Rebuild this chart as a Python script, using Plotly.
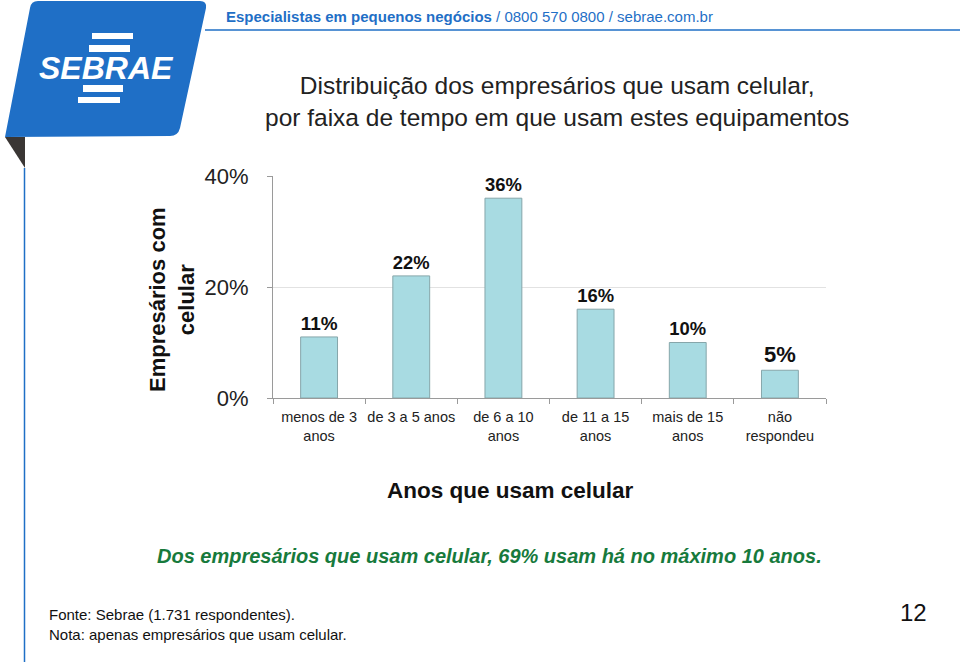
import plotly.graph_objects as go

categories = ["menos de 3<br>anos", "de 3 a 5 anos", "de 6 a 10<br>anos",
              "de 11 a 15<br>anos", "mais de 15<br>anos", "não<br>respondeu"]
values = [11, 22, 36, 16, 10, 5]
value_labels = ["11%", "22%", "36%", "16%", "10%", "5%"]
y_ticks = [0, 20, 40]
y_tick_labels = ["0%", "20%", "40%"]

W, H = 960, 662
def px(x):
    return x / W
def py(y):
    return 1 - y / H

FONT = "Liberation Sans, Arial, sans-serif"
BLUE = "#1f6fc6"

fig = go.Figure()
fig.add_trace(go.Bar(
    x=categories, y=values, text=value_labels, textposition="outside",
    textfont=dict(family=FONT, size=22, color="#111111", weight="bold"),
    marker=dict(color="#a8dbe2", line=dict(color="#86a6aa", width=1)),
    width=0.4, cliponaxis=False,
))

shapes = []
# logo parallelogram
shapes.append(dict(type="path", xref="paper", yref="paper",
    path=f"M {px(38)} {py(1)} L {px(200)} {py(1)} Q {px(207)} {py(1)} {px(206)} {py(8)} "
         f"L {px(180)} {py(128)} Q {px(178)} {py(136)} {px(170)} {py(136)} "
         f"L {px(5)} {py(137)} L {px(30)} {py(8)} Q {px(31)} {py(1)} {px(38)} {py(1)} Z",
    fillcolor=BLUE, line=dict(width=0), layer="above"))
# fold
shapes.append(dict(type="path", xref="paper", yref="paper",
    path=f"M {px(5)} {py(137)} L {px(25)} {py(137)} L {px(25)} {py(168)} Z",
    fillcolor="#3a3634", line=dict(width=0)))
# white stripes on logo
for (x0, x1, y0, y1) in [(92, 133, 33, 39), (89, 130, 45, 52), (83, 123, 85, 92), (78, 120, 97, 103)]:
    shapes.append(dict(type="rect", xref="paper", yref="paper",
        x0=px(x0), x1=px(x1), y0=py(y1), y1=py(y0),
        fillcolor="white", line=dict(width=0), layer="above"))
# left vertical line
shapes.append(dict(type="line", xref="paper", yref="paper",
    x0=px(24.5), x1=px(24.5), y0=py(168), y1=py(662), line=dict(color=BLUE, width=1.5)))
# header line
shapes.append(dict(type="line", xref="paper", yref="paper",
    x0=px(205), x1=px(960), y0=py(30), y1=py(30), line=dict(color=BLUE, width=1.5)))

def ann(text, x, y, size, color="#111111", xanchor="center", family=FONT, **kw):
    font = dict(family=family, size=size, color=color)
    font.update(kw.pop("font_extra", {}))
    d = dict(text=text, x=px(x), y=py(y), xref="paper", yref="paper", showarrow=False,
             xanchor=xanchor, yanchor="middle", font=font)
    d.update(kw)
    return d

annotations = [
    ann("SEBRAE", 106, 68, 32, "white", font_extra=dict(weight="bold", style="italic")),
    ann("<b>Especialistas em pequenos negócios</b> / 0800 570 0800 / sebrae.com.br",
        224, 17, 15, BLUE, xanchor="left"),
    ann("Distribuição dos empresários que usam celular,<br>por faixa de tempo em que usam estes equipamentos",
        557, 101, 24.5, "#222222"),
    ann("<b>Empresários com<br>celular</b>", 172, 300, 22, textangle=-90),
    ann("<b>Anos que usam celular</b>", 510, 490, 22.5),
    ann("<b><i>Dos empresários que usam celular, 69% usam há no máximo 10 anos.</i></b>",
        489, 556, 20, "#177a3c"),
    ann("Fonte: Sebrae (1.731 respondentes).<br>Nota: apenas empresários que usam celular.",
        47, 624, 15, xanchor="left", align="left"),
    ann("12", 913, 612, 24),
]

fig.update_layout(
    width=W, height=H, margin=dict(l=0, r=0, t=0, b=0, autoexpand=False),
    paper_bgcolor="white", plot_bgcolor="white", showlegend=False,
    shapes=shapes, annotations=annotations,
    xaxis=dict(domain=[px(273), px(826)], showline=True, linecolor="#9a9a9a",
               ticks="outside", tickson="boundaries", ticklen=5, tickcolor="#9a9a9a",
               tickangle=0, automargin=False, ticklabelstandoff=6,
               tickfont=dict(family=FONT, size=14.5, color="#222222"), fixedrange=True),
    yaxis=dict(domain=[py(398), py(176)], range=[0, 40], tickvals=y_ticks, ticktext=y_tick_labels,
               showline=True, linecolor="#9a9a9a", ticks="outside", ticklen=5, tickcolor="#9a9a9a",
               showgrid=True, gridcolor="#e2e2e2", zeroline=False, automargin=False,
               tickfont=dict(family=FONT, size=22, color="#222222"), ticklabelstandoff=14,
               fixedrange=True),
)

fig.write_html("out.html", config={"displayModeBar": False},
               post_script="document.body.style.margin='0';document.body.style.overflow='hidden';")
